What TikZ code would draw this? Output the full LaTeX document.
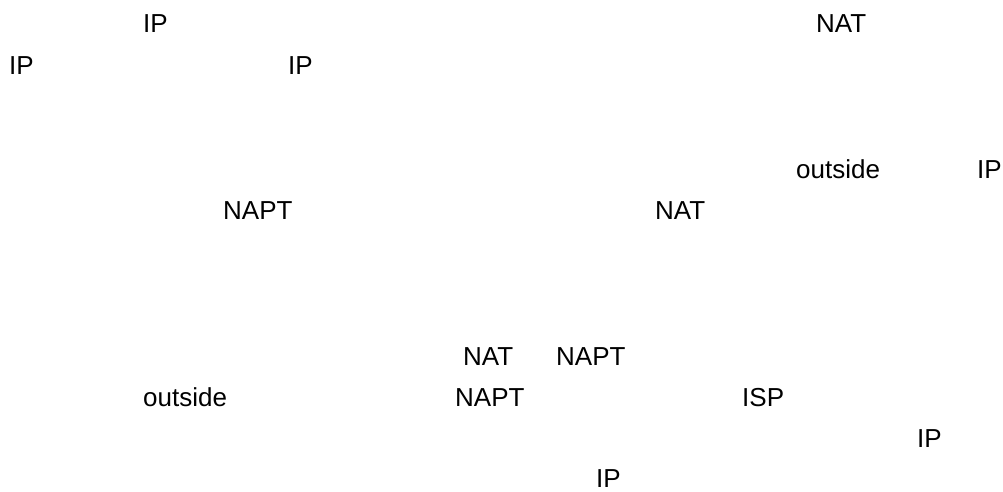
\documentclass[tikz,border=0pt]{standalone}
\usepackage{fontspec}
\setmainfont{Liberation Sans}
\begin{document}
\begin{tikzpicture}[x=1pt,y=1pt,
  word/.style={anchor=base west,inner sep=0pt,font=\fontsize{26}{30}\selectfont}]
\useasboundingbox (0,0) rectangle (1003,492);
\fill[white] (0,0) rectangle (1003,492);
\node[word] (t1) at (143,459) {IP};
\node[word] (t2) at (816,459) {NAT};
\node[word] (t3) at (9,417) {IP};
\node[word] (t4) at (288,417) {IP};
\node[word] (t5) at (796,313) {outside};
\node[word] (t6) at (977,313) {IP};
\node[word] (t7) at (223,272) {NAPT};
\node[word] (t8) at (655,272) {NAT};
\node[word] (t9) at (463,126) {NAT};
\node[word] (t10) at (556,126) {NAPT};
\node[word] (t11) at (143,85) {outside};
\node[word] (t12) at (455,85) {NAPT};
\node[word] (t13) at (742,85) {ISP};
\node[word] (t14) at (917,44) {IP};
\node[word] (t15) at (596,4) {IP};
\end{tikzpicture}
\end{document}
